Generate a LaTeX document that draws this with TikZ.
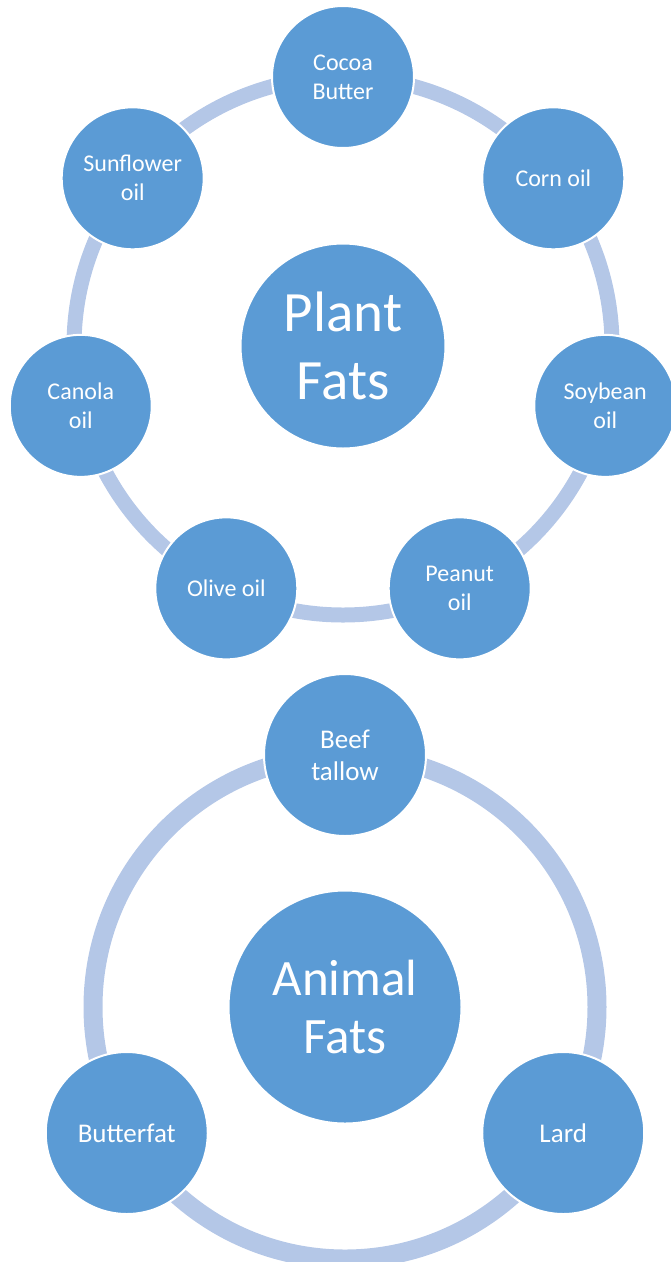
\documentclass[tikz,border=0pt]{standalone}
\usepackage{fontspec}
\setmainfont{Carlito}
\usetikzlibrary{calc}
\definecolor{hubblue}{HTML}{5B9BD5}
\definecolor{ringblue}{HTML}{B4C7E7}
\begin{document}
\begin{tikzpicture}[x=1pt,y=-1pt,
  ring/.style={draw=ringblue,line width=15pt},
  bigring/.style={draw=ringblue,line width=19pt},
  bubble/.style={circle,fill=hubblue,draw=white,line width=2pt,text=white,align=center,inner sep=0pt},
  sat/.style={bubble,minimum size=142pt,font=\fontsize{24}{29}\selectfont},
  bigsat/.style={bubble,minimum size=162pt,font=\fontsize{27}{32}\selectfont},
  hub/.style={bubble,minimum size=205pt,font=\fontsize{57}{68}\selectfont},
  bighub/.style={bubble,minimum size=233pt,font=\fontsize{51}{58}\selectfont}]
\useasboundingbox (0,0) rectangle (670,1262);
% Plant fats
\coordinate (pc) at (343,346);
\draw[ring] (pc) circle (269);
\node[hub] (plant) at (pc) {Plant\\Fats};
\node[sat] (cocoa) at ($(pc)+(0,-269)$) {Cocoa\\Butter};
\node[sat] (corn) at ($(pc)+({269*cos(38.571)},{-269*sin(38.571)})$) {Corn oil};
\node[sat] (soy) at ($(pc)+({269*cos(-12.857)},{-269*sin(-12.857)})$) {Soybean\\oil};
\node[sat] (peanut) at ($(pc)+({269*cos(-64.286)},{-269*sin(-64.286)})$) {Peanut\\oil};
\node[sat] (olive) at ($(pc)+({269*cos(-115.714)},{-269*sin(-115.714)})$) {Olive oil};
\node[sat] (canola) at ($(pc)+({269*cos(-167.143)},{-269*sin(-167.143)})$) {Canola\\oil};
\node[sat] (sun) at ($(pc)+({269*cos(141.429)},{-269*sin(141.429)})$) {Sunflower\\oil};
% Animal fats
\coordinate (ac) at (345,1007);
\draw[bigring] (ac) circle (252);
\node[bighub] (animal) at (ac) {Animal\\Fats};
\node[bigsat] (beef) at ($(ac)+(0,-252)$) {Beef\\tallow};
\node[bigsat] (butter) at ($(ac)+({252*cos(210)},{-252*sin(210)})$) {Butterfat};
\node[bigsat] (lard) at ($(ac)+({252*cos(330)},{-252*sin(330)})$) {Lard};
\end{tikzpicture}
\end{document}
